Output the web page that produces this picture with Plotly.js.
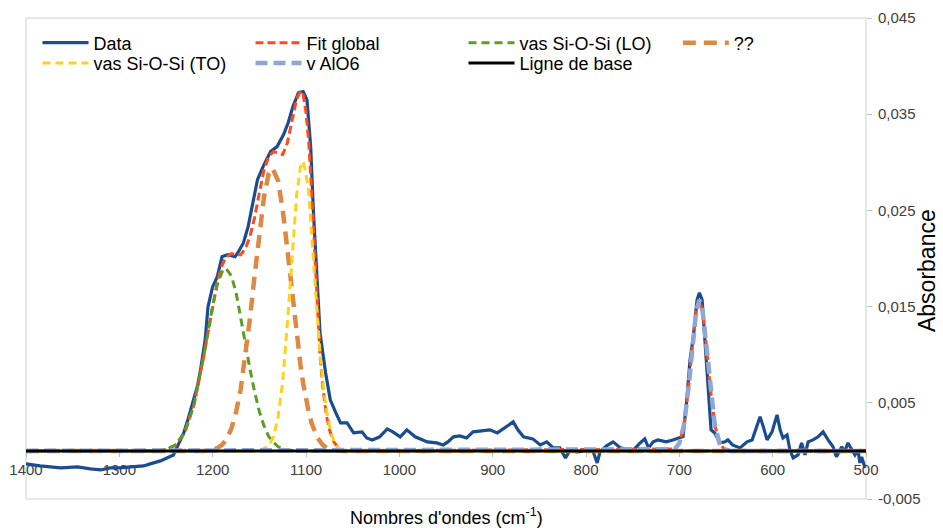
<!DOCTYPE html>
<html>
<head>
<meta charset="utf-8">
<script src="https://cdn.plot.ly/plotly-3.0.1.min.js"></script>
<style>
html,body{margin:0;padding:0;background:#fff;}
#chart{width:943px;height:528px;}
</style>
</head>
<body>
<div id="chart"></div>
<script>
// ---- Data (wavenumber cm-1, absorbance) ----
const dataX = [1400,1385,1363,1345,1331,1320,1310,1299,1288,1274,1267,1256,1249,1242,1238,1231,1226,1221,1216,1213,1208,1205,1200,1195,1190,1184,1176,1173,1167,1162,1158,1152,1146,1138,1131,1124,1119,1114,1108,1103,1099,1095,1092,1088,1085,1079,1074,1068,1063,1056,1049,1040,1035,1029,1021,1013,1007,999,992,983,970,960,953,948,942,935,928,921,911,903,895,887,878,873,867,857,849,842,835,828,822,817,810,799,793,788,785,778,771,763,755,750,742,737,733,728,723,714,707,699,696,692,688.5,685,681,678.5,675.6,672.4,669,666,662,656.5,651,648,643,635,627.5,622,619,613.5,610,606,600.7,595.3,592,589,584.6,581.5,578,572.8,569,565.4,562,556.8,551.4,546,540.6,535.3,531.7,526,523,519.3,515,511.8,508.6,506.5,504.7,501];
const dataY = [-0.00135,-0.00156,-0.00177,-0.00166,-0.00187,-0.00198,-0.00177,-0.00177,-0.00166,-0.00156,-0.00135,-0.00104,-0.00073,-0.00042,0.00042,0.00187,0.00343,0.00531,0.00687,0.00843,0.01155,0.01498,0.01707,0.01811,0.02019,0.0204,0.02019,0.0206,0.02164,0.02331,0.02539,0.0282,0.02955,0.03111,0.03163,0.03288,0.03413,0.0358,0.03725,0.03736,0.03652,0.03163,0.02477,0.01779,0.01228,0.00812,0.00531,0.00395,0.00291,0.00291,0.00187,0.00198,0.00135,0.00114,0.00146,0.00229,0.00198,0.00146,0.00219,0.00146,0.00094,0.00083,0.00062,0.00094,0.00146,0.00156,0.00135,0.00198,0.00208,0.00219,0.00187,0.00239,0.00302,0.00219,0.00146,0.00125,0.00062,0.00094,0.00031,0.00031,-0.00073,0.0001,-0.0001,0,0.0001,-0.00125,-0.0001,0.00052,0.00094,0.00031,0.0001,0,0.00083,0.00125,0.00031,0.00094,0.00114,0.00094,0.00114,0.00135,0.0015,0.00531,0.00947,0.01186,0.01571,0.01644,0.01571,0.01124,0.00635,0.00219,0.00187,0.00083,0.00094,0.00114,0.00062,0.00031,0.00094,0.00114,0.00198,0.00354,0.0025,0.00114,0.00198,0.00375,0.00219,0.00135,0.00166,0.0001,-0.00073,-0.00042,0.00083,-0.00042,0.00094,0.00114,0.00146,0.00198,0.00114,0.00042,-0.00062,0.00042,-0.0001,0.00083,0.0001,-0.00042,0.0001,-0.00125,-0.00062,-0.00177];

// ---- Fit global ----
const fitX = [1400,1260,1250,1240,1230,1220,1210,1200,1195,1190,1186,1180,1175,1170,1165,1160,1155,1150,1145,1140,1135,1130,1125,1120,1115,1110,1106,1103,1100,1097,1094,1091,1088,1085,1082,1078,1074,1070,1065,1060,705,700,695,690,686,682,678.5,675,671,667,662,657,652,645,500];
const fitY = [0,0,0.00014,0.0006,0.0019,0.0048,0.0096,0.0152,0.0176,0.0193,0.0201,0.0205,0.0204,0.0204,0.0210,0.0223,0.0243,0.0268,0.0292,0.0306,0.0311,0.0310,0.0308,0.0320,0.0345,0.0366,0.0374,0.0370,0.0352,0.0320,0.0270,0.0208,0.0148,0.0100,0.0066,0.0036,0.0019,0.0009,0.0003,0,0.0002,0.0008,0.0027,0.0067,0.0109,0.0145,0.0157,0.0145,0.0109,0.0067,0.0027,0.0008,0.0002,0,0];

// ---- vas Si-O-Si (LO) ----
const loX = [1400,1260,1250,1240,1230,1220,1210,1200,1195,1190,1186,1180,1175,1170,1165,1160,1155,1150,1145,1140,1135,1130,1125,1120,1110,500];
const loY = [0,0,0.00014,0.00059,0.0019,0.0048,0.0096,0.0151,0.0173,0.0186,0.0190,0.0182,0.0165,0.0140,0.0112,0.0085,0.0061,0.0041,0.0026,0.0015,0.0009,0.00045,0.00023,0.0001,0,0];

// ---- ?? ----
const unkX = [1400,1210,1200,1195,1190,1186,1180,1175,1170,1165,1160,1155,1150,1145,1140,1136,1130,1125,1120,1115,1110,1106,1103,1100,1097,1094,1091,1088,1085,1082,1078,1074,1070,1060,500];
const unkY = [0,0,0.00013,0.0003,0.00063,0.0011,0.0023,0.0040,0.0064,0.0097,0.0138,0.0183,0.0227,0.0264,0.0288,0.0294,0.0281,0.0251,0.0210,0.0165,0.0121,0.0090,0.0070,0.0054,0.0040,0.0029,0.0021,0.0014,0.0010,0.0006,0.00035,0.0002,0.0001,0,0];

// ---- vas Si-O-Si (TO) ----
const toX = [1400,1150,1140,1135,1130,1125,1120,1115,1110,1106,1103,1100,1097,1094,1091,1088,1085,1082,1078,1074,1070,1065,1060,500];
const toY = [0,0,0.0005,0.0014,0.0035,0.0072,0.0132,0.0202,0.0266,0.0295,0.0301,0.0288,0.0268,0.0225,0.0180,0.0138,0.0102,0.0072,0.0042,0.0022,0.0010,0.0003,0,0];

// ---- v AlO6 ----
const alX = [1400,705,700,695,690,686,682,678.5,675,671,667,662,657,652,645,500];
const alY = [0,0.00017,0.0008,0.0027,0.0067,0.0109,0.0145,0.0157,0.0145,0.0109,0.0067,0.0027,0.0008,0.00017,0,0];

// ---- Ligne de base ----
const baseX = [1400,500];
const baseY = [0,0];

// ---- Axis ticks ----
const xTicks = [1400,1300,1200,1100,1000,900,800,700,600,500];
const yTicks = [-0.005,0.005,0.015,0.025,0.035,0.045];
const yTickText = ['-0,005','0,005','0,015','0,025','0,035','0,045'];

const FONT = 'Liberation Sans, Arial, sans-serif';

const traces = [
  {name:'Data', x:dataX, y:dataY, mode:'lines', line:{color:'#1a4d8f', width:3.2}, legend:'legend'},
  {name:'Fit global', x:fitX, y:fitY, mode:'lines', line:{color:'#ff4a1c', width:3, dash:'8px,4px'}, legend:'legend'},
  {name:'vas Si-O-Si (LO)', x:loX, y:loY, mode:'lines', line:{color:'#5a9e24', width:3, dash:'8px,5px'}, legend:'legend'},
  {name:'??', x:unkX, y:unkY, mode:'lines', line:{color:'#de8943', width:4.5, dash:'13px,8px'}, legend:'legend2'},
  {name:'vas Si-O-Si (TO)', x:toX, y:toY, mode:'lines', line:{color:'#ffd21a', width:3, dash:'8px,5px'}, legend:'legend3'},
  {name:'v AlO6', x:alX, y:alY, mode:'lines', line:{color:'#8ea7d4', width:4.5, dash:'12px,6px'}, legend:'legend3'},
  {name:'Ligne de base', x:baseX, y:baseY, mode:'lines', line:{color:'#000000', width:3}, legend:'legend3'}
];

function leg(xf, yf){
  return {x:xf, y:yf, xanchor:'left', yanchor:'middle', orientation:'h',
    bgcolor:'rgba(0,0,0,0)', borderwidth:0, itemwidth:46,
    entrywidth:152, entrywidthmode:'pixels', tracegroupgap:0,
    font:{family:FONT, size:18, color:'#000'}};
}

const layout = {
  width:943, height:528,
  margin:{l:26, r:77, t:18, b:29},
  paper_bgcolor:'#fff', plot_bgcolor:'#fff',
  separators:', ',
  showlegend:true,
  legend:leg(0.0137, 0.948), legend2:leg(0.776, 0.948), legend3:leg(0.0137, 0.906),
  xaxis:{
    range:[1400,500], autorange:false,
    tickvals:xTicks, ticktext:xTicks.map(String),
    anchor:'free', position:0.1,
    showline:true, linecolor:'#bfbfbf', linewidth:1,
    ticks:'outside', ticklen:5, tickcolor:'#bfbfbf',
    showgrid:false, zeroline:false,
    tickfont:{family:FONT, size:15, color:'#404040'},
    layer:'below traces'
  },
  yaxis:{
    range:[-0.005,0.045], autorange:false, side:'right',
    tickvals:yTicks, ticktext:yTickText,
    showline:false, ticks:'outside', ticklen:5, tickcolor:'#bfbfbf',
    showgrid:false, zeroline:false, ticklabelstandoff:3,
    tickfont:{family:FONT, size:15, color:'#404040'}
  },
  shapes:[{type:'rect', xref:'paper', yref:'paper', x0:0, x1:1, y0:0, y1:1,
    line:{color:'#d0d0d0', width:1}, layer:'below'}],
  annotations:[
    {xref:'paper', yref:'paper', x:0.5, y:-0.036, xanchor:'center', yanchor:'middle',
     text:"Nombres d'ondes (cm<sup>-1</sup>)", showarrow:false,
     font:{family:FONT, size:18, color:'#000'}},
    {xref:'paper', yref:'paper', x:1.0726, y:0.476, xanchor:'center', yanchor:'middle',
     text:'Absorbance', textangle:-90, showarrow:false,
     font:{family:FONT, size:23, color:'#000'}}
  ]
};

Plotly.newPlot('chart', traces, layout, {displayModeBar:false, staticPlot:true});
</script>
</body>
</html>
